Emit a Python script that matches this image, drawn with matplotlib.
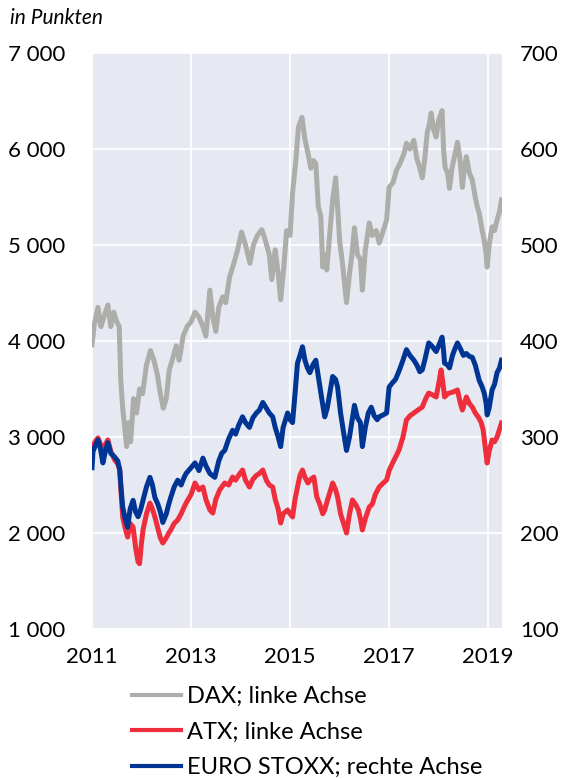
#! /usr/bin/env python3

import numpy as np
import matplotlib.pyplot as plt

# DAX, linke Achse
dax_jahr = [2011.00, 2011.04, 2011.12, 2011.18, 2011.24, 2011.32, 2011.38, 2011.44, 2011.50, 2011.55,
            2011.58, 2011.62, 2011.66, 2011.70, 2011.74, 2011.78, 2011.84, 2011.90, 2011.96, 2012.02,
            2012.10, 2012.18, 2012.25, 2012.32, 2012.38, 2012.44, 2012.50, 2012.56, 2012.62, 2012.70,
            2012.76, 2012.84, 2012.92, 2013.00, 2013.08, 2013.16, 2013.24, 2013.30, 2013.38, 2013.44,
            2013.50, 2013.56, 2013.64, 2013.70, 2013.78, 2013.86, 2013.94, 2014.02, 2014.10, 2014.19,
            2014.26, 2014.34, 2014.43, 2014.50, 2014.58, 2014.63, 2014.70, 2014.76, 2014.81, 2014.87,
            2014.93, 2015.00, 2015.05, 2015.12, 2015.17, 2015.24, 2015.30, 2015.36, 2015.42, 2015.47,
            2015.52, 2015.57, 2015.62, 2015.66, 2015.71, 2015.74, 2015.80, 2015.86, 2015.92, 2015.96,
            2016.00, 2016.06, 2016.10, 2016.14, 2016.20, 2016.25, 2016.30, 2016.36, 2016.42, 2016.46,
            2016.52, 2016.60, 2016.66, 2016.74, 2016.80, 2016.88, 2016.95, 2017.00, 2017.08, 2017.15,
            2017.22, 2017.30, 2017.35, 2017.42, 2017.50, 2017.56, 2017.62, 2017.67, 2017.72, 2017.77,
            2017.81, 2017.85, 2017.90, 2017.95, 2018.00, 2018.07, 2018.10, 2018.13, 2018.18, 2018.22,
            2018.27, 2018.33, 2018.38, 2018.43, 2018.48, 2018.52, 2018.56, 2018.62, 2018.68, 2018.74,
            2018.78, 2018.82, 2018.88, 2018.92, 2018.96, 2018.98, 2019.02, 2019.08, 2019.13, 2019.18,
            2019.23, 2019.27]
dax = [3960, 4150, 4350, 4150, 4250, 4375, 4150, 4300, 4200, 4150,
       3600, 3300, 3100, 2900, 3150, 2950, 3400, 3250, 3500, 3450,
       3750, 3900, 3800, 3650, 3450, 3300, 3400, 3700, 3800, 3950,
       3800, 4050, 4150, 4200, 4300, 4250, 4150, 4050, 4530, 4250,
       4100, 4350, 4460, 4400, 4670, 4800, 4950, 5135, 5000, 4810,
       5000, 5100, 5160, 5050, 4900, 4640, 4950, 4700, 4430, 4750,
       5150, 5100, 5540, 5900, 6230, 6330, 6100, 5960, 5800, 5880,
       5850, 5400, 5300, 4770, 4900, 4740, 5100, 5470, 5700, 5400,
       5050, 4800, 4600, 4400, 4700, 4900, 5180, 4900, 4850, 4530,
       4950, 5230, 5100, 5150, 5020, 5150, 5260, 5600, 5650, 5780,
       5850, 5950, 6060, 6000, 6090, 5900, 5800, 5700, 5900, 6170,
       6250, 6375, 6200, 6125, 6300, 6400, 6000, 5810, 5750, 5590,
       5800, 5950, 6070, 5900, 5600, 5800, 5920, 5750, 5680, 5500,
       5400, 5330, 5150, 5050, 4900, 4770, 5000, 5190, 5150, 5260,
       5350, 5470]

# ATX, linke Achse
atx_jahr = [2011.00, 2011.02, 2011.06, 2011.12, 2011.17, 2011.22, 2011.27, 2011.32, 2011.38, 2011.46,
            2011.52, 2011.56, 2011.59, 2011.62, 2011.67, 2011.72, 2011.77, 2011.83, 2011.88, 2011.93,
            2011.96, 2012.00, 2012.03, 2012.10, 2012.17, 2012.22, 2012.27, 2012.33, 2012.38, 2012.43,
            2012.50, 2012.55, 2012.59, 2012.66, 2012.73, 2012.80, 2012.86, 2012.90, 2013.00, 2013.08,
            2013.16, 2013.24, 2013.30, 2013.38, 2013.44, 2013.50, 2013.58, 2013.68, 2013.76, 2013.84,
            2013.90, 2013.96, 2014.04, 2014.10, 2014.18, 2014.25, 2014.32, 2014.38, 2014.45, 2014.52,
            2014.58, 2014.65, 2014.70, 2014.76, 2014.81, 2014.86, 2014.95, 2015.00, 2015.05, 2015.10,
            2015.15, 2015.20, 2015.25, 2015.30, 2015.36, 2015.42, 2015.48, 2015.54, 2015.60, 2015.66,
            2015.70, 2015.76, 2015.82, 2015.86, 2015.92, 2015.96, 2016.02, 2016.08, 2016.14, 2016.20,
            2016.26, 2016.32, 2016.38, 2016.42, 2016.46, 2016.52, 2016.60, 2016.66, 2016.72, 2016.80,
            2016.88, 2016.95, 2017.00, 2017.07, 2017.14, 2017.20, 2017.28, 2017.35, 2017.42, 2017.50,
            2017.58, 2017.67, 2017.74, 2017.80, 2017.87, 2017.95, 2018.00, 2018.05, 2018.09, 2018.12,
            2018.18, 2018.22, 2018.30, 2018.38, 2018.44, 2018.48, 2018.52, 2018.56, 2018.62, 2018.68,
            2018.74, 2018.80, 2018.86, 2018.90, 2018.94, 2018.98, 2019.02, 2019.08, 2019.13, 2019.18,
            2019.23, 2019.27]
atx = [2800, 2900, 2950, 2990, 2930, 2865, 2920, 2970, 2850, 2760,
       2720, 2656, 2400, 2167, 2050, 1958, 2100, 2062, 1850, 1700,
       1680, 1900, 2031, 2200, 2312, 2250, 2167, 2050, 1950, 1896,
       1950, 2000, 2031, 2100, 2135, 2200, 2270, 2312, 2400, 2521,
       2450, 2479, 2350, 2240, 2208, 2350, 2450, 2521, 2500, 2583,
       2550, 2600, 2656, 2550, 2479, 2560, 2600, 2620, 2656, 2550,
       2500, 2479, 2350, 2250, 2104, 2200, 2240, 2200, 2167, 2350,
       2479, 2600, 2656, 2580, 2521, 2560, 2583, 2375, 2300, 2200,
       2240, 2350, 2450, 2521, 2450, 2375, 2200, 2100, 2000, 2200,
       2344, 2300, 2240, 2150, 2031, 2150, 2271, 2300, 2400, 2479,
       2520, 2552, 2650, 2729, 2800, 2865, 3000, 3177, 3220, 3250,
       3280, 3312, 3400, 3458, 3440, 3417, 3550, 3698, 3550, 3417,
       3450, 3458, 3470, 3490, 3350, 3281, 3350, 3417, 3350, 3312,
       3250, 3208, 3150, 3073, 2900, 2729, 2850, 2969, 2950, 3000,
       3080, 3146]

# EURO STOXX, rechte Achse
stoxx_jahr = [2011.00, 2011.02, 2011.06, 2011.12, 2011.17, 2011.22, 2011.27, 2011.32, 2011.38, 2011.46,
              2011.52, 2011.56, 2011.59, 2011.62, 2011.67, 2011.72, 2011.77, 2011.83, 2011.88, 2011.93,
              2011.98, 2012.03, 2012.10, 2012.17, 2012.22, 2012.27, 2012.33, 2012.38, 2012.43, 2012.50,
              2012.55, 2012.59, 2012.66, 2012.73, 2012.80, 2012.86, 2012.90, 2013.00, 2013.08, 2013.16,
              2013.24, 2013.30, 2013.38, 2013.48, 2013.56, 2013.62, 2013.68, 2013.76, 2013.84, 2013.90,
              2013.96, 2014.04, 2014.10, 2014.18, 2014.25, 2014.32, 2014.38, 2014.45, 2014.52, 2014.58,
              2014.65, 2014.70, 2014.76, 2014.81, 2014.86, 2014.95, 2015.00, 2015.05, 2015.10, 2015.15,
              2015.20, 2015.25, 2015.30, 2015.35, 2015.40, 2015.46, 2015.52, 2015.58, 2015.64, 2015.70,
              2015.75, 2015.80, 2015.86, 2015.92, 2015.96, 2016.02, 2016.08, 2016.14, 2016.20, 2016.26,
              2016.30, 2016.36, 2016.42, 2016.46, 2016.52, 2016.58, 2016.64, 2016.70, 2016.76, 2016.80,
              2016.88, 2016.95, 2017.00, 2017.06, 2017.13, 2017.21, 2017.28, 2017.35, 2017.42, 2017.50,
              2017.56, 2017.62, 2017.67, 2017.72, 2017.80, 2017.86, 2017.95, 2018.00, 2018.07, 2018.10,
              2018.12, 2018.18, 2018.22, 2018.28, 2018.33, 2018.38, 2018.44, 2018.50, 2018.56, 2018.62,
              2018.68, 2018.74, 2018.82, 2018.88, 2018.92, 2018.96, 2018.98, 2019.02, 2019.08, 2019.13,
              2019.18, 2019.23, 2019.27]
stoxx = [268, 285, 290, 297, 288, 273, 285, 294, 283, 279,
         275, 266, 245, 227, 215, 206, 225, 234, 222, 217,
         224, 234, 248, 258, 250, 237, 230, 222, 211, 220,
         230, 237, 248, 255, 250, 258, 262, 268, 273, 265,
         278, 270, 262, 258, 275, 283, 286, 298, 307, 303,
         312, 321, 315, 310, 320, 325, 328, 336, 330, 325,
         321, 310, 300, 290, 310, 325, 318, 315, 345, 377,
         385, 394, 380, 372, 367, 375, 380, 360, 340, 321,
         330, 345, 363, 360, 352, 325, 305, 286, 300, 320,
         333, 320, 315, 290, 310, 325, 331, 322, 318, 321,
         323, 325, 352, 356, 360, 370, 380, 391, 385, 380,
         375, 368, 370, 380, 398, 395, 389, 395, 404, 390,
         377, 375, 372, 385, 392, 398, 392, 385, 387, 384,
         383, 375, 359, 352, 346, 335, 323, 330, 349, 355,
         367, 372, 380]

jahre = [2011, 2013, 2015, 2017, 2019]
links_ticks = [1000, 2000, 3000, 4000, 5000, 6000, 7000]
links_labels = ['1 000', '2 000', '3 000', '4 000', '5 000', '6 000', '7 000']
rechts_ticks = [100, 200, 300, 400, 500, 600, 700]

plt.rcParams['font.family'] = ['Lato', 'DejaVu Sans']

fig = plt.figure(figsize=(5.67, 7.79), dpi=100)
ax = fig.add_axes([92/567, 1-629/779, 410/567, 576/779])
ax.set_facecolor('#e6e9f2')

l_dax, = ax.plot(dax_jahr, dax, color='#adadaa', lw=3.6, label='DAX; linke Achse')
l_atx, = ax.plot(atx_jahr, atx, color='#ee2e3d', lw=3.6, label='ATX; linke Achse')
ax.set_xlim(2011, 2019.28)
ax.set_ylim(1000, 7000)
ax.set_xticks(jahre)
ax.set_xticklabels([str(j) for j in jahre])
ax.set_yticks(links_ticks)
ax.set_yticklabels(links_labels, ha='left')
ax.grid(color='white', lw=1.3)
ax.set_axisbelow(True)
ax.tick_params(length=0, labelsize=16)
ax.tick_params(axis='y', pad=60.5)
ax.tick_params(axis='x', pad=13)

ax2 = ax.twinx()
l_stoxx, = ax2.plot(stoxx_jahr, stoxx, color='#003594', lw=3.6, label='EURO STOXX; rechte Achse')
ax2.set_ylim(100, 700)
ax2.set_yticks(rechts_ticks)
ax2.tick_params(length=0, labelsize=16, pad=13)

for a in (ax, ax2):
    for s in a.spines.values():
        s.set_visible(False)

fig.text(10/567, 1-18/779, 'in Punkten', style='italic', fontsize=15, va='center')

leg = fig.legend(handles=[l_dax, l_atx, l_stoxx], loc='upper left',
                 bbox_to_anchor=(120/567, 1-674/779), frameon=False, fontsize=17,
                 handlelength=2.1, handletextpad=0.25, labelspacing=0.62, borderpad=0)
for h in leg.get_lines():
    h.set_linewidth(3)

plt.savefig('out.png', dpi=100)
